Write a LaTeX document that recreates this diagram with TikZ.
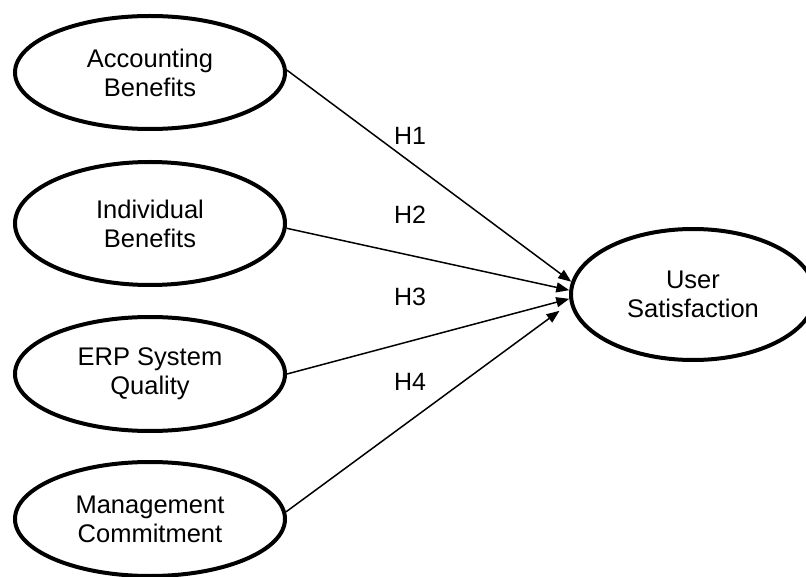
\documentclass[tikz,border=0pt]{standalone}
\usepackage{fontspec}
\setmainfont{Liberation Sans}
\usetikzlibrary{shapes.geometric,arrows.meta}
\begin{document}
\begin{tikzpicture}[x=1pt,y=-1pt,
  construct/.style={ellipse,draw,line width=4pt,inner sep=0pt,align=center,
    font=\fontsize{25.5}{29}\selectfont,minimum width=270pt,minimum height=114pt},
  path/.style={line width=1.5pt,-{Triangle[length=13pt,width=10pt]}},
  hyp/.style={font=\fontsize{25}{29}\selectfont,inner sep=0pt}]
\useasboundingbox (0,0) rectangle (806,577);
\node[construct,minimum height=113pt] (acc) at (150,72.5) {Accounting\\Benefits};
\node[construct,minimum height=123pt] (ind) at (150,223.5) {Individual\\Benefits};
\node[construct] (erp) at (150,374) {ERP System\\Quality};
\node[construct] (mgt) at (150,519) {Management\\Commitment};
\node[construct,minimum width=244pt,minimum height=131pt] (us) at (693,294.5) {User\\Satisfaction};
\draw[path] (acc.1.5) -- (us.174);
\draw[path] (ind.-2) -- (us.178.8);
\draw[path] (erp.east) -- (us.182);
\draw[path,shorten >=13pt] (mgt.3) -- (us.184);
\node[hyp] (h1) at (410,136) {H1};
\node[hyp] (h2) at (410,215) {H2};
\node[hyp] (h3) at (410,297) {H3};
\node[hyp] (h4) at (410,382) {H4};
\end{tikzpicture}
\end{document}
